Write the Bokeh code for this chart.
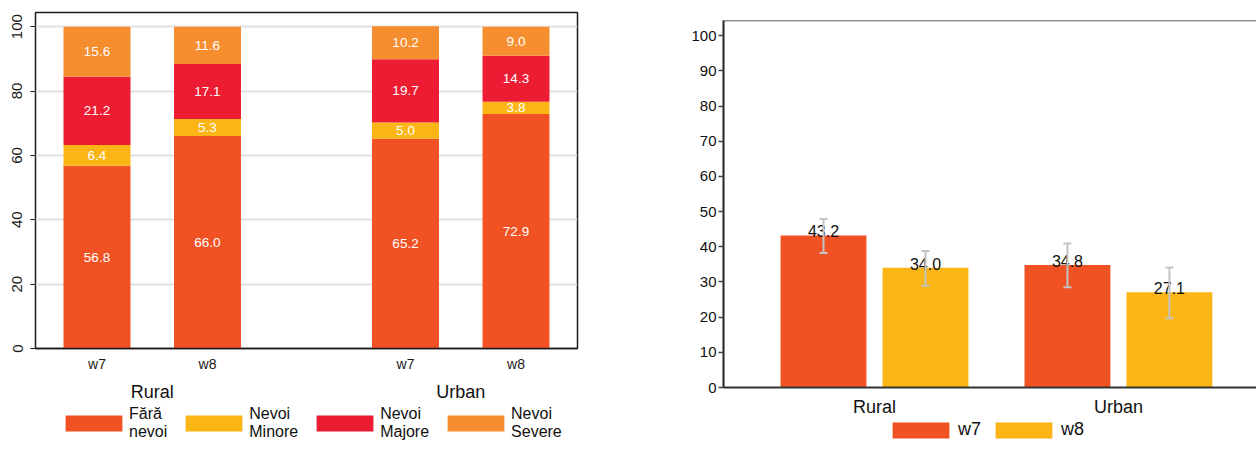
from bokeh.plotting import figure
from bokeh.models import (FactorRange, Range1d, FixedTicker, Legend, LegendItem,
                          Whisker, TeeHead, ColumnDataSource, Span)
from bokeh.layouts import row, column
from bokeh.embed import file_html
from bokeh.resources import INLINE
from bokeh.core.properties import value

# ---------------- data ----------------
areas = ["Rural", "Urban"]
waves = ["w7", "w8"]

need_names = ["Fără\nnevoi", "Nevoi\nMinore", "Nevoi\nMajore", "Nevoi\nSevere"]
fara_nevoi = [56.8, 66.0, 65.2, 72.9]      # Rural w7, Rural w8, Urban w7, Urban w8
nevoi_minore = [6.4, 5.3, 5.0, 3.8]
nevoi_majore = [21.2, 17.1, 19.7, 14.3]
nevoi_severe = [15.6, 11.6, 10.2, 9.0]
need_colors = ["#F05224", "#FBB615", "#EC1C32", "#F68D2E"]
left_ticks = [0, 20, 40, 60, 80, 100]

rate_w7 = [43.2, 34.8]                     # Rural, Urban
rate_w8 = [34.0, 27.1]
ci_low_w7 = [38.2, 28.5]
ci_high_w7 = [47.9, 40.9]
ci_low_w8 = [28.9, 19.7]
ci_high_w8 = [38.8, 34.1]
wave_colors = ["#F05224", "#FBB615"]
right_ticks = [0, 10, 20, 30, 40, 50, 60, 70, 80, 90, 100]

FONT = "Liberation Sans"


def legend_strip(width, height, left, top, names, colors, standoff, spacing, size):
    """A transparent strip below a chart that only holds that chart's legend."""
    lf = figure(width=width, height=height, x_range=Range1d(0, 1), y_range=Range1d(0, 1),
                output_backend="svg", toolbar_location=None,
                min_border_left=left, min_border_top=top,
                min_border_right=0, min_border_bottom=0,
                background_fill_color=None, border_fill_color=None)
    lf.frame_align = False
    lf.axis.visible = False
    lf.grid.grid_line_color = None
    lf.outline_line_color = None
    items = []
    for n, c in zip(names, colors):
        # zero-size key glyph: only used to draw the legend swatch
        key_src = ColumnDataSource(dict(x=[0.0], top=[0.0]))
        r = lf.vbar(x="x", top="top", width=0.0, source=key_src,
                    fill_color=c, line_color=None)
        items.append(LegendItem(label=n, renderers=[r]))
    leg = Legend(items=items, orientation="horizontal", location="top_left",
                 glyph_width=71, glyph_height=20, label_standoff=standoff,
                 spacing=spacing, padding=0, margin=0, border_line_color=None,
                 background_fill_alpha=0, label_text_font=FONT,
                 label_text_font_size=size, label_text_color="#111111")
    lf.add_layout(leg, "center")
    return lf


# ---------------- left chart: stacked bars ----------------
factors = [(a, w) for a in areas for w in waves]
keys = ["fara", "minore", "majore", "severe"]
series = [fara_nevoi, nevoi_minore, nevoi_majore, nevoi_severe]
src1 = ColumnDataSource(dict(x=factors, **{k: s for k, s in zip(keys, series)}))

p1 = figure(width=640, height=405,
            x_range=FactorRange(*factors, factor_padding=0.0, group_padding=0.792,
                                range_padding=0.0236),
            y_range=Range1d(0, 104.4),
            output_backend="svg", toolbar_location=None,
            min_border_left=35, min_border_right=63,
            min_border_top=12, min_border_bottom=57)
p1.frame_align = False

rs = p1.vbar_stack(keys, x="x", width=0.606, color=need_colors, source=src1,
                   line_color=None)

lab_x, lab_y, lab_t = [], [], []
bottoms = [0.0] * len(factors)
for s in series:
    for i, v in enumerate(s):
        lab_x.append(factors[i])
        lab_y.append(bottoms[i] + v / 2)
        lab_t.append(f"{v:.1f}")
        bottoms[i] += v
src_lab = ColumnDataSource(dict(x=lab_x, y=lab_y, t=lab_t))
p1.text(x="x", y="y", text="t", source=src_lab, text_color="white",
        text_align="center", text_baseline="middle",
        text_font=value(FONT), text_font_size="13.5px")

p1.outline_line_color = "#1a1a1a"
p1.outline_line_width = 1.5
p1.xgrid.grid_line_color = None
p1.ygrid.ticker = FixedTicker(ticks=left_ticks)
p1.ygrid.grid_line_color = "#e2e2e2"
p1.ygrid.grid_line_width = 2

ya = p1.yaxis[0]
ya.ticker = FixedTicker(ticks=left_ticks)
ya.axis_line_color = None
ya.major_tick_out = 5
ya.major_tick_in = 0
ya.major_tick_line_color = "#1a1a1a"
ya.minor_tick_line_color = None
ya.major_label_orientation = "vertical"
ya.major_label_standoff = 8
ya.major_label_text_font = FONT
ya.major_label_text_font_size = "15px"
ya.major_label_text_color = "#1a1a1a"

xa = p1.xaxis[0]
xa.axis_line_color = "#1a1a1a"
xa.axis_line_width = 1.5
xa.major_tick_out = 0
xa.major_tick_in = 0
xa.major_tick_line_color = None
xa.minor_tick_line_color = None
xa.major_label_standoff = 7
xa.major_label_text_font = FONT
xa.major_label_text_font_size = "14px"
xa.major_label_text_color = "#1a1a1a"
xa.group_text_font = FONT
xa.group_text_font_size = "18px"
xa.group_text_font_style = "normal"
xa.group_text_color = "#111111"
xa.separator_line_color = None

leg1 = legend_strip(640, 45, 58, 0, need_names, need_colors, 0, 11, "16px")

# ---------------- right chart: grouped bars with error bars ----------------
area_idx = list(range(len(areas)))
offset = 0.209
x_w7 = [i - offset for i in area_idx]
x_w8 = [i + offset for i in area_idx]

p2 = figure(width=616, height=419,
            x_range=Range1d(-0.619, 1.566), y_range=Range1d(0, 104.3),
            output_backend="svg", toolbar_location=None,
            min_border_left=83, min_border_right=0,
            min_border_top=20, min_border_bottom=32)
p2.frame_align = False
p2.outline_line_color = None
p2.xgrid.grid_line_color = None
p2.ygrid.grid_line_color = None

s7 = ColumnDataSource(dict(x=x_w7, top=rate_w7, lo=ci_low_w7, hi=ci_high_w7,
                           t=[f"{v:.1f}" for v in rate_w7]))
s8 = ColumnDataSource(dict(x=x_w8, top=rate_w8, lo=ci_low_w8, hi=ci_high_w8,
                           t=[f"{v:.1f}" for v in rate_w8]))
r7 = p2.vbar(x="x", top="top", width=0.352, color=wave_colors[0], line_color=None, source=s7)
r8 = p2.vbar(x="x", top="top", width=0.352, color=wave_colors[1], line_color=None, source=s8)

for s in (s7, s8):
    p2.text(x="x", y="top", text="t", source=s, text_color="#111111",
            text_align="center", text_baseline="bottom", y_offset=2,
            text_font=value(FONT), text_font_size="16px")
    w = Whisker(source=s, base="x", upper="hi", lower="lo",
                line_color="#c4c4c4", line_width=2, level="annotation",
                upper_head=TeeHead(size=8, line_color="#c4c4c4", line_width=2),
                lower_head=TeeHead(size=8, line_color="#c4c4c4", line_width=2))
    p2.add_layout(w)

p2.add_layout(Span(location=104.3, dimension="width", line_color="#222222", line_width=1.5))

ya2 = p2.yaxis[0]
ya2.ticker = FixedTicker(ticks=right_ticks)
ya2.axis_line_color = "#222222"
ya2.axis_line_width = 2
ya2.major_tick_out = 5
ya2.major_tick_in = 0
ya2.major_tick_line_color = "#444444"
ya2.major_tick_line_width = 1.5
ya2.minor_tick_line_color = None
ya2.major_label_standoff = 2
ya2.major_label_text_font = FONT
ya2.major_label_text_font_size = "15px"
ya2.major_label_text_color = "#111111"

xa2 = p2.xaxis[0]
xa2.ticker = FixedTicker(ticks=area_idx)
xa2.major_label_overrides = {i: a for i, a in zip(area_idx, areas)}
xa2.axis_line_color = "#333333"
xa2.axis_line_width = 2
xa2.major_tick_out = 0
xa2.major_tick_in = 0
xa2.major_tick_line_color = None
xa2.minor_tick_line_color = None
xa2.major_label_standoff = 9
xa2.major_label_text_font = FONT
xa2.major_label_text_font_size = "18px"
xa2.major_label_text_color = "#111111"

leg2 = legend_strip(616, 31, 245, 0, waves, wave_colors, 2, 7, "18px")

layout = row(column(p1, leg1), column(p2, leg2))
open("out.html", "w").write(file_html(layout, INLINE))
